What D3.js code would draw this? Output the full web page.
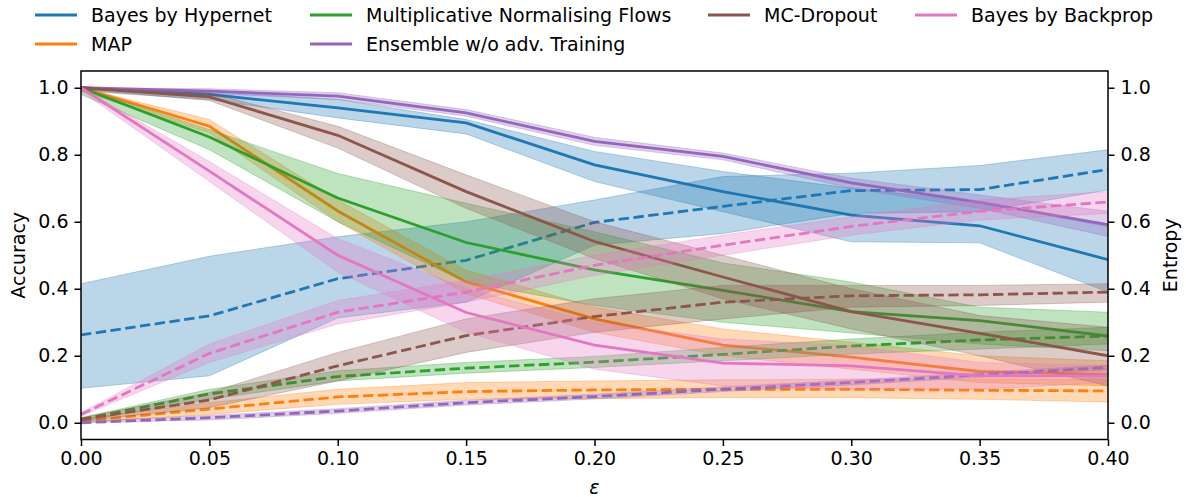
<!DOCTYPE html>
<html>
<head>
<meta charset="utf-8">
<script src="https://cdn.jsdelivr.net/npm/d3@7"></script>
<style>
  body { margin: 0; background: #fff; }
  text { font-family: "DejaVu Sans", sans-serif; fill: #000; }
</style>
</head>
<body>
<div id="chart"></div>
<script>
// Perturbation strengths on the x-axis.
const eps = [0, 0.05, 0.1, 0.15, 0.2, 0.25, 0.3, 0.35, 0.4];
const xTicks = [0, 0.05, 0.1, 0.15, 0.2, 0.25, 0.3, 0.35, 0.4];
const yTicks = [0, 0.2, 0.4, 0.6, 0.8, 1.0];

// Bayes by Hypernet
const hyperAcc   = [1.0, 0.98, 0.94, 0.895, 0.77, 0.69, 0.62, 0.588, 0.487];
const hyperAccLo = [0.99, 0.965, 0.91, 0.862, 0.72, 0.63, 0.54, 0.537, 0.39];
const hyperAccHi = [1.0, 0.99, 0.965, 0.905, 0.81, 0.75, 0.70, 0.66, 0.585];
const hyperEnt   = [0.262, 0.319, 0.43, 0.485, 0.598, 0.646, 0.693, 0.696, 0.756];
const hyperEntLo = [0.103, 0.14, 0.313, 0.36, 0.53, 0.565, 0.625, 0.63, 0.695];
const hyperEntHi = [0.415, 0.497, 0.555, 0.6, 0.665, 0.735, 0.745, 0.768, 0.815];

// MAP
const mapAcc   = [1.0, 0.885, 0.632, 0.42, 0.31, 0.232, 0.196, 0.153, 0.143];
const mapAccLo = [0.99, 0.865, 0.6, 0.385, 0.27, 0.2, 0.16, 0.12, 0.11];
const mapAccHi = [1.0, 0.905, 0.665, 0.455, 0.345, 0.28, 0.24, 0.2, 0.185];
const mapEnt   = [0.005, 0.041, 0.077, 0.093, 0.098, 0.1, 0.1, 0.097, 0.095];
const mapEntLo = [0.0, 0.025, 0.055, 0.07, 0.072, 0.075, 0.075, 0.07, 0.062];
const mapEntHi = [0.012, 0.06, 0.1, 0.12, 0.125, 0.128, 0.13, 0.13, 0.13];

// Multiplicative Normalising Flows
const mnfAcc   = [1.0, 0.853, 0.671, 0.538, 0.456, 0.395, 0.332, 0.305, 0.259];
const mnfAccLo = [0.98, 0.815, 0.6, 0.42, 0.35, 0.3, 0.268, 0.235, 0.215];
const mnfAccHi = [1.0, 0.875, 0.744, 0.655, 0.57, 0.477, 0.42, 0.345, 0.33];
const mnfEnt   = [0.01, 0.086, 0.138, 0.163, 0.181, 0.204, 0.229, 0.247, 0.259];
const mnfEntLo = [0.005, 0.07, 0.125, 0.148, 0.165, 0.185, 0.205, 0.22, 0.235];
const mnfEntHi = [0.015, 0.1, 0.155, 0.18, 0.198, 0.225, 0.25, 0.27, 0.285];

// Ensemble w/o adv. Training
const ensAcc   = [1.0, 0.99, 0.975, 0.925, 0.84, 0.795, 0.716, 0.658, 0.591];
const ensAccLo = [0.995, 0.983, 0.965, 0.915, 0.828, 0.785, 0.7, 0.64, 0.556];
const ensAccHi = [1.0, 0.997, 0.985, 0.935, 0.852, 0.805, 0.73, 0.68, 0.631];
const ensEnt   = [0.0, 0.015, 0.035, 0.06, 0.078, 0.1, 0.12, 0.143, 0.165];
const ensEntLo = [0.0, 0.008, 0.028, 0.053, 0.071, 0.093, 0.113, 0.136, 0.158];
const ensEntHi = [0.005, 0.022, 0.042, 0.067, 0.085, 0.107, 0.127, 0.15, 0.172];

// MC-Dropout
const mcdAcc   = [1.0, 0.973, 0.858, 0.69, 0.541, 0.435, 0.332, 0.267, 0.2];
const mcdAccLo = [0.995, 0.962, 0.82, 0.64, 0.49, 0.37, 0.28, 0.2, 0.11];
const mcdAccHi = [1.0, 0.985, 0.885, 0.74, 0.6, 0.5, 0.4, 0.32, 0.285];
const mcdEnt   = [0.01, 0.068, 0.17, 0.26, 0.317, 0.36, 0.379, 0.382, 0.39];
const mcdEntLo = [0.005, 0.045, 0.125, 0.21, 0.27, 0.31, 0.345, 0.35, 0.36];
const mcdEntHi = [0.015, 0.09, 0.21, 0.31, 0.37, 0.41, 0.41, 0.41, 0.415];

// Bayes by Backprop
const bbbAcc   = [1.0, 0.751, 0.5, 0.329, 0.232, 0.178, 0.17, 0.14, 0.14];
const bbbAccLo = [0.99, 0.72, 0.45, 0.27, 0.16, 0.11, 0.1, 0.1, 0.12];
const bbbAccHi = [1.0, 0.78, 0.55, 0.4, 0.3, 0.25, 0.23, 0.18, 0.17];
const bbbEnt   = [0.025, 0.207, 0.33, 0.39, 0.47, 0.53, 0.586, 0.631, 0.659];
const bbbEntLo = [0.02, 0.18, 0.295, 0.36, 0.44, 0.5, 0.56, 0.605, 0.625];
const bbbEntHi = [0.03, 0.235, 0.365, 0.425, 0.5, 0.56, 0.615, 0.665, 0.69];

const methods = [
    { name: "Bayes by Hypernet", color: "#1f77b4", acc: hyperAcc, accLo: hyperAccLo, accHi: hyperAccHi, ent: hyperEnt, entLo: hyperEntLo, entHi: hyperEntHi },
    { name: "MAP", color: "#ff7f0e", acc: mapAcc, accLo: mapAccLo, accHi: mapAccHi, ent: mapEnt, entLo: mapEntLo, entHi: mapEntHi },
    { name: "Multiplicative Normalising Flows", color: "#2ca02c", acc: mnfAcc, accLo: mnfAccLo, accHi: mnfAccHi, ent: mnfEnt, entLo: mnfEntLo, entHi: mnfEntHi },
    { name: "Ensemble w/o adv. Training", color: "#9467bd", acc: ensAcc, accLo: ensAccLo, accHi: ensAccHi, ent: ensEnt, entLo: ensEntLo, entHi: ensEntHi },
    { name: "MC-Dropout", color: "#8c564b", acc: mcdAcc, accLo: mcdAccLo, accHi: mcdAccHi, ent: mcdEnt, entLo: mcdEntLo, entHi: mcdEntHi },
    { name: "Bayes by Backprop", color: "#e377c2", acc: bbbAcc, accLo: bbbAccLo, accHi: bbbAccHi, ent: bbbEnt, entLo: bbbEntLo, entHi: bbbEntHi }
];

const width = 1186;
const height = 497;
const margin = { top: 71, right: 78, bottom: 57.5, left: 81 };

const svg = d3.select("#chart")
    .append("svg")
    .attr("width", width)
    .attr("height", height);

const xScale = d3.scaleLinear()
    .domain([0, 0.4])
    .range([margin.left, width - margin.right]);

const yScale = d3.scaleLinear()
    .domain([-0.05, 1.05])
    .range([height - margin.bottom, margin.top]);

svg.append("clipPath")
    .attr("id", "plot-clip")
    .append("rect")
    .attr("x", margin.left)
    .attr("y", margin.top)
    .attr("width", width - margin.left - margin.right)
    .attr("height", height - margin.top - margin.bottom);

const plot = svg.append("g").attr("clip-path", "url(#plot-clip)");

const area = d3.area()
    .x(function(d) { return xScale(d.x); })
    .y0(function(d) { return yScale(d.lo); })
    .y1(function(d) { return yScale(d.hi); });

const line = d3.line()
    .x(function(d) { return xScale(d.x); })
    .y(function(d) { return yScale(d.y); });

function drawSeries(color, mean, lo, hi, dashed) {
    const pts = eps.map(function(e, i) {
        return { x: e, y: mean[i], lo: lo[i], hi: hi[i] };
    });
    plot.append("path")
        .datum(pts)
        .attr("d", area)
        .attr("fill", color)
        .attr("fill-opacity", 0.3)
        .attr("stroke", color)
        .attr("stroke-opacity", 0.3)
        .attr("stroke-width", 1);
    plot.append("path")
        .datum(pts)
        .attr("d", line)
        .attr("fill", "none")
        .attr("stroke", color)
        .attr("stroke-width", 2.8)
        .attr("stroke-dasharray", dashed ? "10.4,4.5" : null);
}

// Accuracy (solid) and entropy (dashed) for each method.
methods.forEach(function(m) {
    drawSeries(m.color, m.acc, m.accLo, m.accHi, false);
    drawSeries(m.color, m.ent, m.entLo, m.entHi, true);
});

// Axes
const xAxis = svg.append("g")
    .attr("transform", `translate(0, ${height - margin.bottom})`)
    .call(d3.axisBottom(xScale).tickValues(xTicks).tickFormat(d3.format(".2f")).tickSize(6.5).tickPadding(6));

const yAxisL = svg.append("g")
    .attr("transform", `translate(${margin.left}, 0)`)
    .call(d3.axisLeft(yScale).tickValues(yTicks).tickFormat(d3.format(".1f")).tickSize(6.5).tickPadding(6));

const yAxisR = svg.append("g")
    .attr("transform", `translate(${width - margin.right}, 0)`)
    .call(d3.axisRight(yScale).tickValues(yTicks).tickFormat(d3.format(".1f")).tickSize(6.5).tickPadding(6));

[xAxis, yAxisL, yAxisR].forEach(function(g) {
    g.select(".domain").remove();
    g.selectAll(".tick line").attr("stroke", "#000").attr("stroke-width", 1.5);
    g.selectAll(".tick text").style("font-size", "19px").style("font-family", "DejaVu Sans");
});

// Frame around the plot area
svg.append("rect")
    .attr("x", margin.left)
    .attr("y", margin.top)
    .attr("width", width - margin.left - margin.right)
    .attr("height", height - margin.top - margin.bottom)
    .attr("fill", "none")
    .attr("stroke", "#000")
    .attr("stroke-width", 1.5);

// Axis labels
svg.append("text")
    .attr("transform", `translate(18, ${(margin.top + height - margin.bottom) / 2}) rotate(-90)`)
    .attr("text-anchor", "middle")
    .attr("dominant-baseline", "central")
    .style("font-size", "19px")
    .text("Accuracy");

svg.append("text")
    .attr("transform", `translate(1170, ${(margin.top + height - margin.bottom) / 2}) rotate(-90)`)
    .attr("text-anchor", "middle")
    .attr("dominant-baseline", "central")
    .style("font-size", "19px")
    .text("Entropy");

svg.append("text")
    .attr("x", (margin.left + width - margin.right) / 2)
    .attr("y", 494)
    .attr("text-anchor", "middle")
    .style("font-size", "19px")
    .style("font-style", "italic")
    .text("ε");

// Legend: four columns, filled column by column
const legendCols = [35, 310, 708, 915];
const legendRows = [15, 44];
const legendSlots = [[0, 0], [0, 1], [1, 0], [1, 1], [2, 0], [3, 0]];

methods.forEach(function(m, i) {
    const cx = legendCols[legendSlots[i][0]];
    const cy = legendRows[legendSlots[i][1]];
    svg.append("line")
        .attr("x1", cx)
        .attr("x2", cx + 42)
        .attr("y1", cy)
        .attr("y2", cy)
        .attr("stroke", m.color)
        .attr("stroke-width", 2.8);
    svg.append("text")
        .attr("x", cx + 56)
        .attr("y", cy)
        .attr("dominant-baseline", "central")
        .style("font-size", "19px")
        .text(m.name);
});
</script>
</body>
</html>
